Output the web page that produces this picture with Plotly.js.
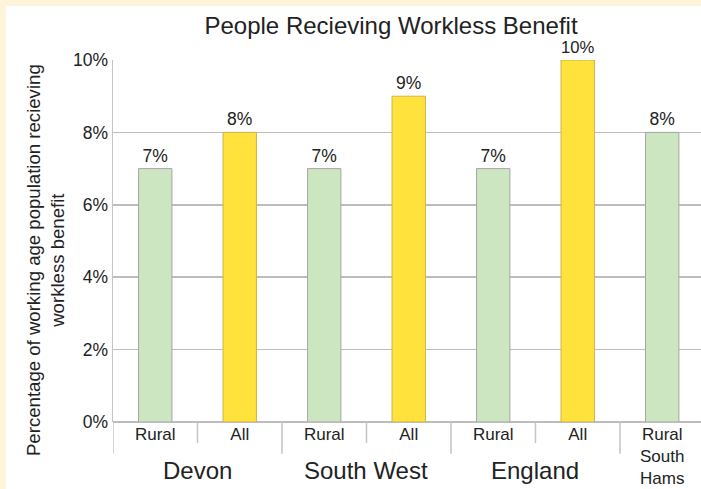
<!DOCTYPE html>
<html>
<head>
<meta charset="utf-8">
<script src="https://cdn.plot.ly/plotly-3.0.1.min.js"></script>
<style>
  html, body { margin: 0; padding: 0; background: #FCF5D9; width: 701px; height: 489px; overflow: hidden; }
  #chart { position: absolute; left: 6px; top: 6px; width: 695px; height: 483px; background: #ffffff; }
</style>
</head>
<body>
<div id="chart"></div>
<script>
// Data
const categories = ["Devon Rural", "Devon All", "South West Rural", "South West All", "England Rural", "England All", "Rural South Hams"];
const tickLabels = ["Rural", "All", "Rural", "All", "Rural", "All", "Rural<br>South<br>Hams"];
const values = [7, 8, 7, 9, 7, 10, 8];
const kinds = ["rural", "all", "rural", "all", "rural", "all", "rural"];
const groups = ["Devon", "South West", "England"];
const groupCenters = [0.5, 2.5, 4.5];
const longDividers = [-0.5, 1.5, 3.5, 5.5];
const shortDividers = [0.5, 2.5, 4.5];

const fillColor = {rural: "#CCE6C1", all: "#FFE23C"};
const lineColor = {rural: "#A6A6A6", all: "#CDB44A"};

const xs = categories.map((c, i) => i);
const FONT = "Liberation Sans, Arial, sans-serif";

const trace = {
  type: "bar",
  x: xs,
  y: values,
  width: 0.395,
  marker: {
    color: kinds.map(k => fillColor[k]),
    line: {color: kinds.map(k => lineColor[k]), width: 1}
  },
  text: values.map(v => v + "%"),
  textposition: "outside",
  textfont: {family: FONT, size: 17.5, color: "#222"},
  cliponaxis: false,
  hoverinfo: "skip"
};

const shapes = [];
longDividers.forEach(x => shapes.push({type: "line", xref: "x", yref: "paper", x0: x, x1: x, y0: 0, y1: -0.088, line: {color: "#C4C4C4", width: 1.5}}));
shortDividers.forEach(x => shapes.push({type: "line", xref: "x", yref: "paper", x0: x, x1: x, y0: 0, y1: -0.058, line: {color: "#C4C4C4", width: 1.5}}));

const annotations = groups.map((g, i) => ({
  text: g, x: groupCenters[i], xref: "x", y: -0.135, yref: "paper",
  xanchor: "center", yanchor: "middle", showarrow: false,
  font: {family: FONT, size: 24, color: "#222"}
}));
annotations.push({
  text: "Percentage of working age population recieving<br>workless benefit",
  x: -0.1156, xref: "paper", y: 0.4475, yref: "paper",
  xanchor: "center", yanchor: "middle", textangle: -90, showarrow: false,
  font: {family: FONT, size: 18.6, color: "#222"}
});

const layout = {
  width: 695, height: 483,
  margin: {l: 107, r: 0, t: 54, b: 67},
  paper_bgcolor: "#ffffff",
  plot_bgcolor: "#ffffff",
  showlegend: false,
  title: {text: "People Recieving Workless Benefit", x: 0.554, xref: "container", y: 0.96, yref: "container", xanchor: "center", yanchor: "middle",
          font: {family: FONT, size: 24, color: "#222"}},
  xaxis: {
    range: [-0.5, 6.459],
    tickvals: xs, ticktext: tickLabels,
    ticks: "", showgrid: false, zeroline: false, showline: false,
    tickfont: {family: FONT, size: 17, color: "#222"}
  },
  yaxis: {
    range: [0, 10], dtick: 2, ticksuffix: "%",
    showgrid: true, gridcolor: "#BDBDBD", gridwidth: 1.5,
    zeroline: true, zerolinecolor: "#BDBDBD", zerolinewidth: 1.5,
    showline: true, linecolor: "#C4C4C4", linewidth: 1.5,
    ticks: "", tickfont: {family: FONT, size: 17.5, color: "#222"}
  },
  shapes: shapes,
  annotations: annotations
};

Plotly.newPlot("chart", [trace], layout, {displayModeBar: false, staticPlot: true});
</script>
</body>
</html>
